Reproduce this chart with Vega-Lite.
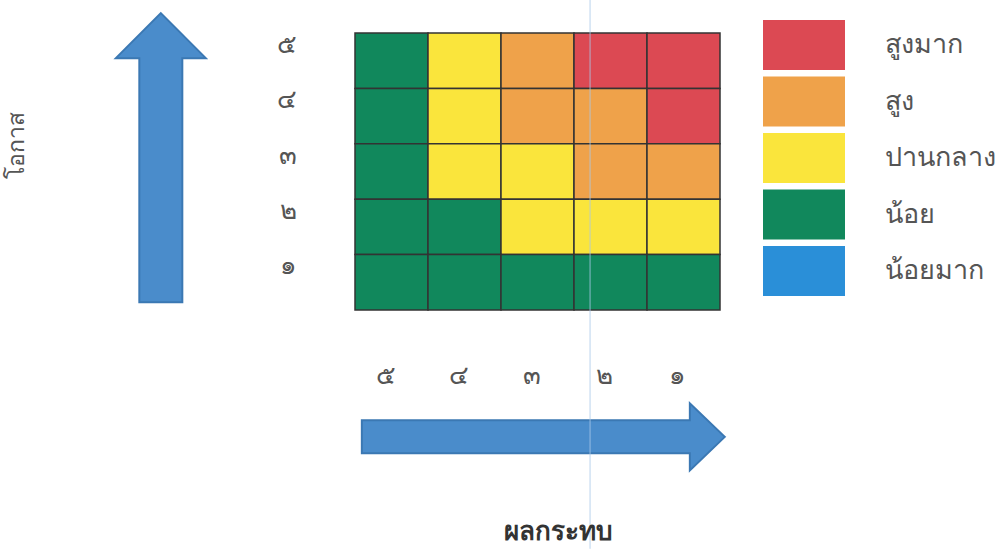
{
  "$schema": "https://vega.github.io/schema/vega-lite/v6.json",
  "width": 365,
  "height": 277,
  "autosize": {"type": "none"},
  "padding": {"left": 355, "top": 33, "right": 276, "bottom": 239},
  "background": "white",
  "config": {"view": {"stroke": null}, "font": "Noto Sans"},
  "datasets": {
    "cells": [
      {"impact": "๕", "likelihood": "๕", "level": "น้อย"},
      {"impact": "๔", "likelihood": "๕", "level": "ปานกลาง"},
      {"impact": "๓", "likelihood": "๕", "level": "สูง"},
      {"impact": "๒", "likelihood": "๕", "level": "สูงมาก"},
      {"impact": "๑", "likelihood": "๕", "level": "สูงมาก"},
      {"impact": "๕", "likelihood": "๔", "level": "น้อย"},
      {"impact": "๔", "likelihood": "๔", "level": "ปานกลาง"},
      {"impact": "๓", "likelihood": "๔", "level": "สูง"},
      {"impact": "๒", "likelihood": "๔", "level": "สูง"},
      {"impact": "๑", "likelihood": "๔", "level": "สูงมาก"},
      {"impact": "๕", "likelihood": "๓", "level": "น้อย"},
      {"impact": "๔", "likelihood": "๓", "level": "ปานกลาง"},
      {"impact": "๓", "likelihood": "๓", "level": "ปานกลาง"},
      {"impact": "๒", "likelihood": "๓", "level": "สูง"},
      {"impact": "๑", "likelihood": "๓", "level": "สูง"},
      {"impact": "๕", "likelihood": "๒", "level": "น้อย"},
      {"impact": "๔", "likelihood": "๒", "level": "น้อย"},
      {"impact": "๓", "likelihood": "๒", "level": "ปานกลาง"},
      {"impact": "๒", "likelihood": "๒", "level": "ปานกลาง"},
      {"impact": "๑", "likelihood": "๒", "level": "ปานกลาง"},
      {"impact": "๕", "likelihood": "๑", "level": "น้อย"},
      {"impact": "๔", "likelihood": "๑", "level": "น้อย"},
      {"impact": "๓", "likelihood": "๑", "level": "น้อย"},
      {"impact": "๒", "likelihood": "๑", "level": "น้อย"},
      {"impact": "๑", "likelihood": "๑", "level": "น้อย"}
    ],
    "arrows": [
      {"name": "likelihood", "gx": -2.66, "gy": 2.75},
      {"name": "impact", "gx": 2.58, "gy": -2.29}
    ],
    "scan": [
      {"gx": 3.22, "gy": 5.6, "gy2": -4.31}
    ]
  },
  "layer": [
    {
      "data": {"name": "cells"},
      "mark": {"type": "rect", "stroke": "#333333", "strokeWidth": 1.5},
      "encoding": {
        "x": {
          "field": "impact", "type": "ordinal",
          "sort": ["๕", "๔", "๓", "๒", "๑"],
          "scale": {"paddingInner": 0, "paddingOuter": 0},
          "axis": {
            "orient": "bottom", "domain": false, "ticks": false,
            "labelPadding": 52, "labelFontSize": 26, "labelColor": "#555555", "labelAngle": 0, "labelOffset": -6,
            "title": "ผลกระทบ", "titleFontSize": 26, "titleColor": "#333333", "titleFontWeight": 600,
            "titleX": 203, "titleY": 221, "titleBaseline": "middle", "titleAlign": "center"
          }
        },
        "y": {
          "field": "likelihood", "type": "ordinal",
          "sort": ["๕", "๔", "๓", "๒", "๑"],
          "scale": {"paddingInner": 0, "paddingOuter": 0},
          "axis": {
            "domain": false, "ticks": false,
            "labelPadding": 59, "labelFontSize": 26, "labelColor": "#555555", "labelOffset": -16,
            "title": "โอกาส", "titleFontSize": 23, "titleColor": "#555555", "titleFontWeight": "normal",
            "titleX": -339, "titleY": 112, "titleBaseline": "middle", "titleAlign": "center", "titleAngle": -90
          }
        },
        "fill": {
          "field": "level", "type": "nominal",
          "scale": {
            "domain": ["สูงมาก", "สูง", "ปานกลาง", "น้อย", "น้อยมาก"],
            "range": ["#dc4953", "#efa24a", "#fae53c", "#11885c", "#2a8fd8"]
          },
          "legend": {
            "orient": "none", "legendX": 424, "legendY": -13,
            "title": null, "padding": 0,
            "symbolType": "M-1.64,-1H1.64V1H-1.64Z", "symbolSize": 2500,
            "symbolStrokeWidth": 0, "symbolOpacity": 1,
            "labelFontSize": 27, "labelColor": "#555555", "labelOffset": 56, "labelLimit": 200,
            "rowPadding": 6.5
          }
        }
      }
    },
    {
      "data": {"name": "arrows"},
      "mark": {"type": "point", "filled": true, "size": 4, "fill": "#4a8ccb", "stroke": "#3b78b3", "strokeWidth": 2, "opacity": 1},
      "encoding": {
        "x": {"field": "gx", "type": "quantitative", "scale": {"domain": [0, 5], "nice": false, "zero": false}, "axis": null},
        "y": {"field": "gy", "type": "quantitative", "scale": {"domain": [0, 5], "nice": false, "zero": false}, "axis": null},
        "shape": {
          "field": "name", "type": "nominal",
          "scale": {
            "domain": ["likelihood", "impact"],
            "range": [
              "M0,-144.5L45,-99.5L21.5,-99.5L21.5,144.5L-21.5,144.5L-21.5,-99.5L-45,-99.5Z",
              "M181.5,0L146.5,-33.5L146.5,-16.5L-181.5,-16.5L-181.5,16.5L146.5,16.5L146.5,33.5Z"
            ]
          },
          "legend": null
        }
      }
    },
    {
      "data": {"name": "scan"},
      "mark": {"type": "rule", "color": "#aac8ea", "strokeWidth": 1, "opacity": 0.8},
      "encoding": {
        "x": {"field": "gx", "type": "quantitative", "scale": {"domain": [0, 5], "nice": false, "zero": false}, "axis": null},
        "y": {"field": "gy", "type": "quantitative", "scale": {"domain": [0, 5], "nice": false, "zero": false}, "axis": null},
        "y2": {"field": "gy2"}
      }
    }
  ],
  "resolve": {"scale": {"x": "independent", "y": "independent"}}
}
